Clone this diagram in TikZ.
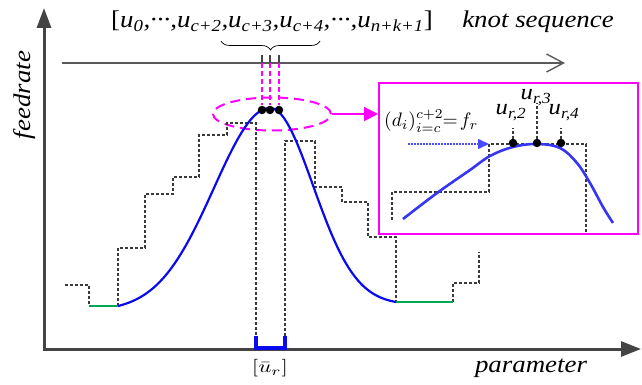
\documentclass[tikz,border=0pt]{standalone}
\usepackage{fontspec}
\usepackage{graphicx}
\setmainfont{Liberation Serif}[FakeStretch=1.12]
\usetikzlibrary{arrows.meta,decorations.pathreplacing,shapes.geometric}
\definecolor{axgray}{HTML}{444444}
\definecolor{stairgray}{HTML}{3A3A3A}
\definecolor{knotgray}{HTML}{5A5A5A}
\definecolor{flatgreen}{HTML}{00A651}
\definecolor{curveblue}{HTML}{0A0AF0}
\definecolor{innerblue}{HTML}{3535F2}
\definecolor{dotblue}{HTML}{4A4AFF}
\definecolor{mag}{HTML}{FF00FF}
\tikzset{
  axisline/.style={draw=axgray, line width=3pt, line join=miter},
  knotline/.style={draw=knotgray, line width=1.4pt},
  stair/.style={draw=stairgray, line width=1.4pt, dash pattern=on 3pt off 2pt},
  flat/.style={draw=flatgreen, line width=2.2pt},
  curve/.style={draw=curveblue, line width=2.2pt},
  innercurve/.style={draw=innerblue, line width=2.6pt},
  magdash/.style={draw=mag, line width=1.3pt, dash pattern=on 5pt off 3pt},
  lbl/.style={font=\fontsize{24}{28}\selectfont\itshape, inner sep=0pt},
  sublbl/.style={font=\fontsize{22}{26}\selectfont\itshape, inner sep=0pt},
  knotdot/.style={fill=black, circle, inner sep=0pt, minimum size=8.5pt},
}
\begin{document}
\begin{tikzpicture}[x=1pt,y=-1pt]
\useasboundingbox (0,0) rectangle (642,385);

% zoom box and ellipse
\node[draw=mag, line width=2pt, minimum width=259pt, minimum height=151pt, anchor=north west, inner sep=0pt] (zoombox) at (378,82) {};
\node[ellipse, draw=mag, line width=2pt, dash pattern=on 10pt off 6pt, minimum width=118pt, minimum height=33pt, inner sep=0pt] (ell) at (272,114) {};
\draw[draw=mag, line width=2pt, -{Triangle[length=14pt,width=14pt]}] (ell.east) -- (zoombox.west |- ell.east);

% axes
\coordinate (Ytop) at (44,8);
\coordinate (O) at (44,349);
\coordinate (Xend) at (641,349);
\draw[axisline, {Triangle[length=20pt,width=14pt]}-{Triangle[length=20pt,width=15pt]}] (Ytop) -- (O) -- (Xend);

% knot sequence line
\coordinate (K0) at (62,63);
\coordinate (K1) at (565,63);
\draw[knotline, -{Straight Barb[length=17pt,width=18pt]}] (K0) -- (K1);

% labels
\node[lbl, anchor=base] (seq) at (272,28) {{\upshape[}u\textsubscript{0},···,u\textsubscript{c+2},u\textsubscript{c+3},u\textsubscript{c+4},···,u\textsubscript{n+k+1}{\upshape]}};
\node[lbl, anchor=base] (knot) at (538,28) {knot sequence};
\node[lbl, rotate=90] (feed) at (25,95) {feedrate};
\node[lbl, anchor=base] (param) at (531,372) {parameter};
\node[inner sep=0pt] (ur) at (270,368) {\scalebox{2.3}[1.75]{$[\bar{u}_r]$}};

% brace
\draw[decorate, decoration={brace, mirror, amplitude=9pt}, line width=0.7pt] (221,41) -- (320,41);

% staircase (main)
\draw[stair] (65,285) -| (89,306);
\draw[stair] (118,306) |- (145,248) |- (173,194) |- (199,177) |- (227,135) |- (256,123) -- (256,336);
\draw[stair] (285,336) |- (315,141) |- (342,187) |- (368,202) |- (396,237) -- (396,302);
\draw[stair] (453,302) |- (479,283) -- (479,252);
\draw[flat] (89,306) -- (118,306);
\draw[flat] (396,302) -- (453,302);

% main curve
\draw[curve] plot[domain=118:270, samples=90] (\x, {306-198*(exp(-0.5*(\x-270)*(\x-270)/3136)-0.02513)/0.97487});
\draw[curve] plot[domain=270:396, samples=80] (\x, {302-194*(exp(-0.5*(\x-270)*(\x-270)/1849)-0.01367)/0.98633});

% bracket on axis
\draw[draw=curveblue, line width=4pt, line join=miter] (256,336) -- (256,347.5) -- (285,347.5) -- (285,336);

% knot ticks, magenta dashes, dots
\foreach \x/\n in {262/a,270/b,279/c} {
  \draw[draw=axgray, line width=1.4pt] (\x,55) -- (\x,63);
  \draw[magdash] (\x,63) -- (\x,105);
  \node[knotdot] (dot\n) at (\x,110) {};
}

% inside the zoom box
\draw[stair] (392,220) |- (489,192) |- (586,144) -- (586,233);
\draw[innercurve] plot[smooth, tension=0.6] coordinates {(403,219) (437,193) (470,170) (490,156) (513,147) (537,144) (560,148) (577,163) (590,183) (603,207) (613,223)};
\coordinate (dstart) at (408,144);
\coordinate (dend) at (489,144);
\draw[draw=dotblue, line width=1.4pt, dash pattern=on 1.5pt off 1.5pt, -{Triangle[length=11pt,width=10pt]}] (dstart) -- (dend);
\node[knotdot] (r2) at (513,143) {};
\node[knotdot] (r3) at (537,143) {};
\node[knotdot] (r4) at (561,143) {};
\node[sublbl, anchor=base] (l2) at (511,115) {u\textsubscript{r,2}};
\node[sublbl, anchor=base] (l3) at (536,100) {u\textsubscript{r,3}};
\node[sublbl, anchor=base] (l4) at (564,115) {u\textsubscript{r,4}};
\draw[stair] (r2) -- (513,128);
\draw[stair] (r3) -- (537,103);
\draw[stair] (r4) -- (561,128);
\node[anchor=west, inner sep=0pt] (dlab) at (384,121) {\scalebox{1.95}{$(d_i)_{i=c}^{c+2}\!\!=\!f_r$}};
\end{tikzpicture}
\end{document}
